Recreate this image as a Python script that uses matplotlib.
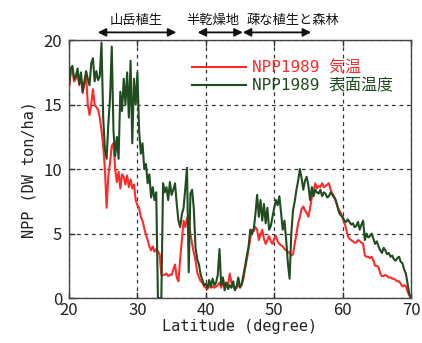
import numpy as np
import matplotlib
matplotlib.use("Agg")
import matplotlib.pyplot as plt

plt.rcParams['font.family'] = ['DejaVu Sans Mono', 'Noto Sans CJK JP']

# Latitude grid (0.25 degree steps, 20N - 70N)
latitude = np.arange(20.0, 70.0001, 0.25)

# NPP estimated from air temperature (ton/ha)
npp_air = [
    16.3, 17.4, 17.7, 16.8, 17.0, 17.5, 16.5, 17.2, 15.9, 16.6, 17.3, 15.0,
    14.2, 15.0, 16.2, 15.0, 14.8, 14.6, 14.0, 13.0, 11.8, 10.0, 7.0, 9.5,
    10.5, 11.8, 12.0, 10.0, 9.0, 9.8, 8.5, 9.6, 9.4, 8.8, 9.5, 8.6,
    9.2, 8.5, 8.8, 7.6, 7.2, 7.0, 6.3, 6.0, 5.4, 4.9, 4.5, 4.0,
    3.7, 4.0, 3.6, 3.8, 3.6, 3.4, 1.8, 1.8, 1.8, 1.9, 1.7, 1.8,
    1.8, 2.2, 2.6, 1.6, 1.3, 3.0, 4.5, 6.0, 5.5, 6.2, 6.0, 5.0,
    4.2, 3.5, 2.9, 2.0, 1.6, 1.3, 1.2, 0.9, 0.8, 0.7, 1.0, 0.8,
    0.9, 0.8, 0.9, 1.0, 1.2, 0.8, 1.5, 0.9, 1.2, 1.0, 1.9, 1.2,
    0.9, 0.7, 0.8, 1.0, 0.9, 1.0, 1.5, 2.3, 3.0, 3.8, 4.6, 5.3,
    5.2, 5.5, 5.3, 4.5, 4.9, 5.3, 4.6, 4.2, 4.5, 4.8, 4.4, 4.2,
    4.6, 4.8, 4.4, 4.2, 4.1, 4.0, 3.8, 3.7, 3.6, 3.5, 3.3, 3.4,
    4.2, 5.0, 5.8, 6.3, 6.9, 7.1, 6.8, 6.6, 6.3, 7.0, 7.8, 8.3,
    8.9, 8.5, 8.7, 8.6, 8.9, 8.6, 8.7, 8.8, 8.9, 8.4, 8.1, 7.9,
    7.5, 7.1, 6.8, 6.6, 6.2, 5.9, 5.4, 4.8, 4.6, 4.5, 4.4, 4.3,
    4.3, 4.5, 4.4, 4.3, 4.2, 3.3, 3.2, 3.2, 3.1, 3.2, 2.9, 2.5,
    2.5, 2.4, 1.9, 1.7, 1.7, 1.8, 1.7, 1.6, 1.6, 1.5, 1.5, 1.4,
    1.3, 1.3, 1.1, 0.9, 1.0, 0.9, 0.5, 0.2, 0.0,
]

# NPP estimated from surface temperature (ton/ha)
npp_surface = [
    16.5, 17.8, 18.0, 17.0, 17.2, 17.8, 16.6, 17.5, 16.0, 16.8, 17.6, 17.0,
    16.5, 18.2, 18.6, 16.8, 17.6, 16.9, 17.2, 19.8, 14.0, 11.5, 10.8, 13.5,
    15.5, 19.5, 13.0, 11.0, 12.5, 10.8, 16.0, 14.5, 17.0, 15.0, 17.5, 14.0,
    18.4, 12.0, 17.0, 15.0, 17.5, 13.0, 11.2, 12.0, 10.0, 10.4, 8.9, 9.6,
    7.8, 8.6, 7.6, 8.2, 0.0, 0.0, 0.0, 8.9, 8.2, 8.6, 7.6, 9.0,
    8.0, 8.4, 8.9, 7.3, 6.0, 5.5, 6.5, 7.0, 8.5, 10.1, 2.0, 8.1,
    8.4, 6.9, 3.9, 3.0, 2.6, 1.8, 1.4, 1.0, 1.1, 0.8, 1.4, 0.9,
    1.5, 1.0, 1.2, 1.8, 3.8, 1.0, 1.6, 0.6, 1.2, 0.7, 1.0, 0.8,
    1.3, 0.6, 0.9, 1.6, 0.8, 1.1, 1.8, 2.5, 3.3, 4.0, 5.3, 5.0,
    5.3, 6.5, 8.0, 6.3, 7.6, 6.0, 7.3, 5.8, 7.0, 5.3, 5.6, 6.3,
    7.0, 7.6, 7.2, 7.9, 6.6, 5.3, 6.0, 4.5, 2.7, 1.5, 5.0, 6.8,
    7.5, 8.4, 9.1, 10.0, 9.3, 8.4, 9.1, 9.4, 8.7, 7.6, 8.6, 7.9,
    8.4, 8.2, 8.1, 8.4, 7.9, 8.2, 8.1, 7.8, 7.9, 8.2, 8.0, 7.8,
    7.6, 7.1, 6.6, 6.4, 6.3, 6.0, 5.9, 6.1, 5.9, 5.7, 5.8, 5.5,
    5.6, 5.9, 5.3, 5.7, 6.0, 4.5, 5.0, 4.7, 4.8, 5.0, 4.6, 4.2,
    4.4, 4.0, 3.7, 3.5, 3.9, 3.7, 3.4, 3.5, 3.2, 3.3, 3.0, 2.9,
    3.1, 3.2, 2.8, 2.7, 2.2, 1.9, 1.1, 0.3, 0.0,
]

series_labels = ["NPP1989 気温", "NPP1989 表面温度"]
series_colors = ["#ff2a2a", "#1f4d1f"]

# Vegetation zones along the transect: (label, label centre, arrow start, arrow end)
zones = [("山岳植生", 29.8, 24.2, 35.7),
         ("半乾燥地", 41.0, 38.8, 45.4),
         ("疎な植生と森林", 52.7, 45.4, 55.4)]

fig = plt.figure(figsize=(4.22, 3.43), dpi=100)
ax = fig.add_axes([0.1635, 0.131, 0.8105, 0.752])

ax.plot(latitude, npp_air, color=series_colors[0], lw=1.5, label=series_labels[0], zorder=3)
ax.plot(latitude, npp_surface, color=series_colors[1], lw=1.5, label=series_labels[1], zorder=4)

ax.set_xlim(20, 70)
ax.set_ylim(0, 20)
ax.set_xticks([20, 30, 40, 50, 60, 70])
ax.set_yticks([0, 5, 10, 15, 20])
ax.grid(True, color="#333333", linestyle=(0, (3, 3)), linewidth=0.9)
ax.tick_params(direction="in", length=4, width=1, top=True, right=False,
               colors="#333333", labelcolor="#222222")
ax.tick_params(axis="x", pad=3)
ax.tick_params(axis="y", pad=5)
for lab in ax.get_xticklabels() + ax.get_yticklabels():
    lab.set_family(['Noto Sans CJK JP', 'DejaVu Sans'])
    lab.set_fontsize(12)
for sp in ax.spines.values():
    sp.set_color("#444444")
    sp.set_linewidth(1.0)

ax.set_xlabel("Latitude (degree)", fontsize=11, color="#222222", labelpad=0)
ax.set_ylabel("NPP (DW ton/ha)", fontsize=11, color="#222222", labelpad=5)

leg = ax.legend(loc="upper left", bbox_to_anchor=(0.36, 0.922), frameon=False,
                fontsize=11.5, handlelength=3.4, handletextpad=0.35, labelspacing=0.22,
                borderpad=0, borderaxespad=0, labelcolor="linecolor")

# Zone arrows and labels above the plot
for name, xc, x0, x1 in zones:
    ax.annotate("", xy=(x0, 20.6), xytext=(x1, 20.6), xycoords="data",
                arrowprops=dict(arrowstyle="<|-|>", color="#111111", lw=1.3,
                                mutation_scale=12, shrinkA=0, shrinkB=0),
                annotation_clip=False)
    ax.text(xc, 21.5, name, ha="center", va="center", fontsize=9.5,
            color="#111111", clip_on=False)

fig.savefig("out.png", dpi=100)
